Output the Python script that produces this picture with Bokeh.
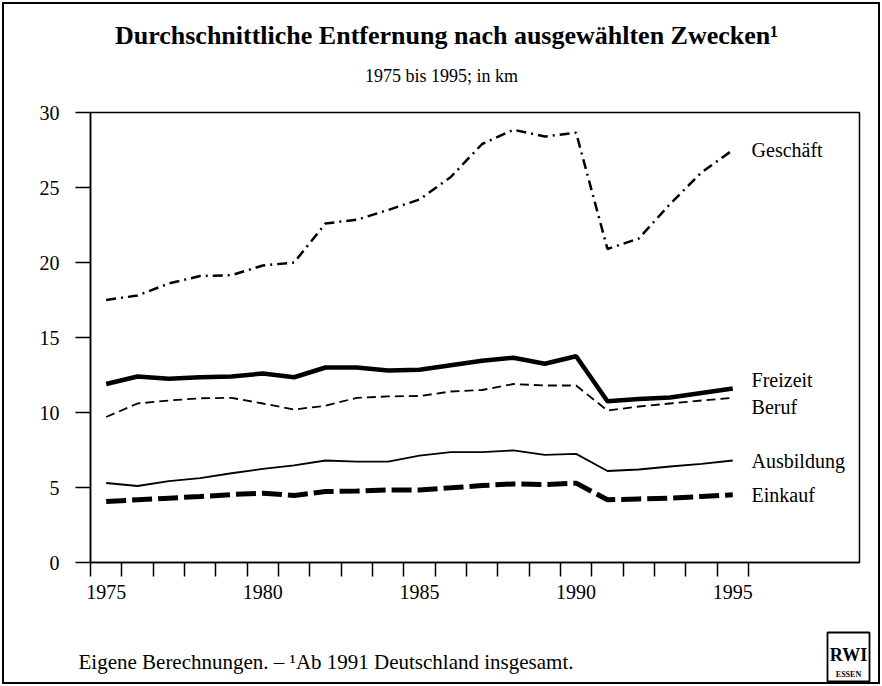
from bokeh.plotting import figure
from bokeh.models import Range1d, FixedTicker, Label, BoxAnnotation
from bokeh.layouts import column, row
from bokeh.embed import file_html
from bokeh.resources import INLINE

# ---- data (km) ----
years = list(range(1975, 1996))
geschaeft = [17.5, 17.8, 18.6, 19.1, 19.15, 19.8, 20.0, 22.6, 22.85, 23.5, 24.2,
             25.7, 27.9, 28.85, 28.4, 28.65, 20.9, 21.6, 23.9, 26.0, 27.5]
freizeit = [11.9, 12.4, 12.25, 12.35, 12.4, 12.6, 12.35, 13.0, 13.0, 12.8, 12.85,
            13.15, 13.45, 13.65, 13.25, 13.75, 10.75, 10.9, 11.0, 11.3, 11.6]
beruf = [9.7, 10.6, 10.8, 10.95, 10.98, 10.6, 10.2, 10.45, 10.98, 11.07, 11.1,
         11.4, 11.5, 11.9, 11.8, 11.8, 10.13, 10.4, 10.6, 10.8, 10.98]
ausbildung = [5.3, 5.1, 5.42, 5.62, 5.95, 6.24, 6.47, 6.8, 6.73, 6.73, 7.13,
              7.36, 7.36, 7.47, 7.18, 7.24, 6.1, 6.2, 6.4, 6.58, 6.8]
einkauf = [4.07, 4.18, 4.29, 4.4, 4.53, 4.62, 4.47, 4.73, 4.76, 4.84, 4.84,
           4.98, 5.13, 5.24, 5.2, 5.29, 4.18, 4.24, 4.29, 4.4, 4.51]

x_tick_labels = [1975, 1980, 1985, 1990, 1995]
y_ticks = [0, 5, 10, 15, 20, 25, 30]

title_text = "Durchschnittliche Entfernung nach ausgewählten Zwecken\u00b9"
subtitle_text = "1975 bis 1995; in km"
footnote_text = "Eigene Berechnungen. \u2013 \u00b9Ab 1991 Deutschland insgesamt."

FONT = "Liberation Serif"
W = 882
H_HEAD, H_MAIN, H_FOOT = 100, 520, 66


def blank(h):
    f = figure(width=W, height=h, output_backend="svg", toolbar_location=None,
               x_range=Range1d(0, W), y_range=Range1d(h, 0),
               x_axis_type=None, y_axis_type=None, min_border=0)
    f.outline_line_color = None
    f.background_fill_color = None
    f.border_fill_color = None
    return f


# ---- header ----
head = blank(H_HEAD)
head.add_layout(Label(x=446, y=35, text=title_text, text_font=FONT,
                      text_font_size="26px", text_font_style="bold",
                      text_align="center", text_baseline="middle", text_color="black"))
head.add_layout(Label(x=441, y=75, text=subtitle_text, text_font=FONT,
                      text_font_size="18px", text_align="center",
                      text_baseline="middle", text_color="black"))

# ---- main chart ----
p = figure(width=W, height=H_MAIN, output_backend="svg", toolbar_location=None,
           x_range=Range1d(1974.5, 1999.045), y_range=Range1d(0, 30),
           min_border_left=90, min_border_right=23, min_border_top=12,
           min_border_bottom=58)
p.grid.visible = False
p.outline_line_color = "black"
p.outline_line_width = 1.5
p.background_fill_color = None
p.border_fill_color = None

xt = FixedTicker(ticks=x_tick_labels,
                 minor_ticks=[y - 0.5 for y in years] + [years[-1] + 0.5])
p.xaxis.ticker = xt
p.xaxis.major_tick_line_color = None
p.xaxis.minor_tick_in = 0
p.xaxis.minor_tick_out = 14
p.xaxis.minor_tick_line_color = "black"
p.xaxis.minor_tick_line_width = 1.5
p.xaxis.major_label_standoff = 8
p.xaxis.axis_line_width = 1.5

p.yaxis.ticker = FixedTicker(ticks=y_ticks)
p.yaxis.major_tick_in = 0
p.yaxis.major_tick_out = 15
p.yaxis.minor_tick_line_color = None
p.yaxis.major_tick_line_width = 1.5
p.yaxis.major_label_standoff = 16
p.yaxis.axis_line_width = 1.5

for ax in (p.xaxis, p.yaxis):
    ax.major_label_text_font = FONT
    ax.major_label_text_font_size = "20px"
    ax.major_label_text_color = "black"
    ax.axis_line_color = "black"

p.line(years, geschaeft, line_color="black", line_width=2.5, line_dash="10 5 2 5")
p.line(years, freizeit, line_color="black", line_width=4.5)
p.line(years, beruf, line_color="black", line_width=1.8, line_dash="9 5")
p.line(years, ausbildung, line_color="black", line_width=1.8)
p.line(years, einkauf, line_color="black", line_width=5, line_dash="20 6")

series_labels = [("Geschäft", geschaeft[-1], 0.0), ("Freizeit", freizeit[-1], 0.55),
                 ("Beruf", beruf[-1], -0.6), ("Ausbildung", ausbildung[-1], -0.05),
                 ("Einkauf", einkauf[-1], 0.0)]
for name, last, off in series_labels:
    p.add_layout(Label(x=years[-1] + 0.6, y=last + off, text=name,
                       text_font=FONT, text_font_size="20px", text_color="black",
                       text_align="left", text_baseline="middle"))

# ---- footer ----
foot = blank(H_FOOT)
foot.add_layout(Label(x=78, y=41, text=footnote_text, text_font=FONT,
                      text_font_size="21px", text_align="left",
                      text_baseline="middle", text_color="black"))
foot.add_layout(BoxAnnotation(left=827, right=869, top=12, bottom=61,
                              fill_color="white", fill_alpha=1.0,
                              line_color="black", line_alpha=1.0, line_width=1.8))
foot.add_layout(Label(x=848, y=34, text="RWI", text_font=FONT,
                      text_font_size="18px", text_font_style="bold",
                      text_align="center", text_baseline="middle", text_color="black"))
foot.add_layout(Label(x=848, y=54, text="ESSEN", text_font=FONT,
                      text_font_size="8px", text_font_style="bold",
                      text_align="center", text_baseline="middle", text_color="black"))

layout = column(row(head), p, row(foot), spacing=0)
layout.styles = {"outline": "2px solid black", "outline-offset": "-4px"}

open("out.html", "w").write(file_html(layout, INLINE))
